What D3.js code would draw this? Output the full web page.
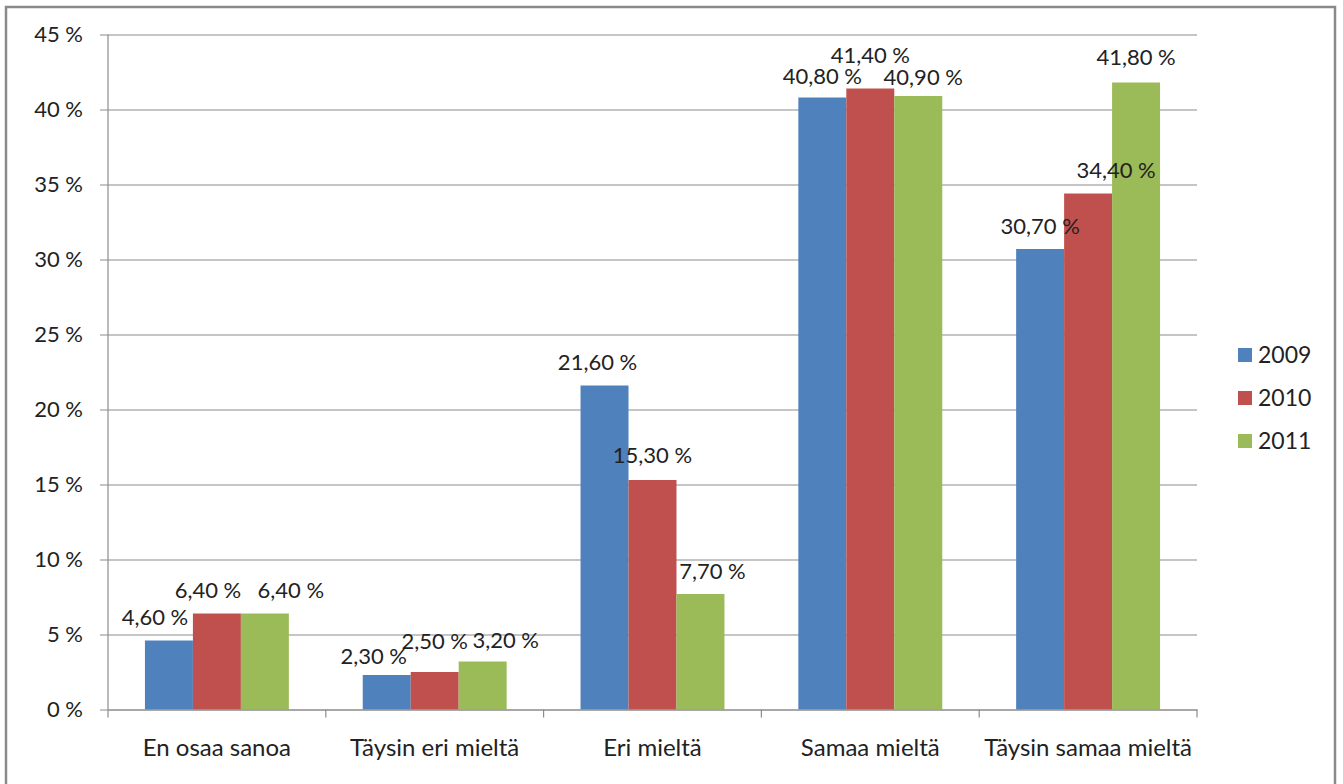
<!DOCTYPE html>
<html>
<head>
<meta charset="utf-8">
<script src="https://cdn.jsdelivr.net/npm/d3@7"></script>
<style>
  body { margin: 0; background: #fff; }
  svg { display: block; font-family: Lato, "Open Sans", sans-serif; }
</style>
</head>
<body>
<div id="chart"></div>
<script>
// Data
const categories = ["En osaa sanoa", "Täysin eri mieltä", "Eri mieltä", "Samaa mieltä", "Täysin samaa mieltä"];
const years = ["2009", "2010", "2011"];
const values2009 = [4.6, 2.3, 21.6, 40.8, 30.7];
const values2010 = [6.4, 2.5, 15.3, 41.4, 34.4];
const values2011 = [6.4, 3.2, 7.7, 40.9, 41.8];
const yTicks = [0, 5, 10, 15, 20, 25, 30, 35, 40, 45];

const seriesValues = [values2009, values2010, values2011];
const colors = ["#4F81BD", "#C0504D", "#9BBB59"];

// Excel had some labels dragged by hand; small [dx, dy] nudges per label
const labelNudge = [
  [[-14, 0], [-13, 4], [-7, 0], [0, 2], [0, 0]],
  [[-9, 0], [0, -8], [0, -2], [0, -10], [28, 0]],
  [[26, 0], [23, 2], [12, 0], [5, 4], [0, -2]]
];

const W = 1343, H = 784;
const plot = { left: 108, right: 1197, top: 34.5, bottom: 709.5 };

const svg = d3.select("#chart").append("svg")
  .attr("width", W)
  .attr("height", H);

svg.append("rect")
  .attr("width", W).attr("height", H)
  .attr("fill", "#fff");

// outer chart border
svg.append("rect")
  .attr("x", 6).attr("y", 7)
  .attr("width", 1329).attr("height", 790)
  .attr("fill", "none")
  .attr("stroke", "#8a8a8a")
  .attr("stroke-width", 2.5);

const x0 = d3.scaleBand()
  .domain(categories)
  .range([plot.left, plot.right])
  .padding(0);

const x1 = d3.scaleBand()
  .domain(years)
  .range([0, x0.bandwidth()])
  .paddingInner(0)
  .paddingOuter(0.77);

const y = d3.scaleLinear()
  .domain([0, 45])
  .range([plot.bottom, plot.top]);

// gridlines + y ticks
const gy = svg.append("g")
  .attr("transform", `translate(${plot.left},0)`)
  .call(d3.axisLeft(y)
    .tickValues(yTicks)
    .tickSize(-(plot.right - plot.left))
    .tickSizeOuter(0)
    .tickPadding(25)
    .tickFormat(d => d + " %"));

gy.select(".domain").remove();
gy.selectAll(".tick line")
  .attr("x1", -8)
  .attr("stroke", "#8c8c8c")
  .attr("stroke-width", 1.2);
gy.selectAll(".tick text")
  .attr("fill", "#222")
  .style("font-size", "22px")
  .style("font-family", "Lato, sans-serif");

// bars
const groups = svg.append("g")
  .selectAll("g")
  .data(categories)
  .join("g")
  .attr("transform", d => `translate(${x0(d)},0)`);

groups.selectAll("rect")
  .data((c, i) => years.map((yr, s) => ({ yr, s, i, v: seriesValues[s][i] })))
  .join("rect")
  .attr("x", d => x1(d.yr))
  .attr("width", x1.bandwidth())
  .attr("y", d => y(d.v))
  .attr("height", d => y(0) - y(d.v))
  .attr("fill", d => colors[d.s]);

// y axis line
svg.append("line")
  .attr("x1", plot.left).attr("x2", plot.left)
  .attr("y1", plot.top).attr("y2", plot.bottom)
  .attr("stroke", "#8c8c8c")
  .attr("stroke-width", 1.2);

// x axis
const gx = svg.append("g")
  .attr("transform", `translate(0,${plot.bottom})`)
  .call(d3.axisBottom(x0).tickSize(0).tickPadding(29));

gx.select(".domain")
  .attr("stroke", "#8c8c8c")
  .attr("stroke-width", 1.2);
gx.selectAll(".tick text")
  .attr("fill", "#222")
  .style("font-size", "24px")
  .style("font-family", "Lato, sans-serif");

// category separator ticks
const sepX = categories.map(c => x0(c)).concat([x0.range()[1]]);
svg.append("g")
  .selectAll("line")
  .data(sepX)
  .join("line")
  .attr("x1", d => d).attr("x2", d => d)
  .attr("y1", plot.bottom).attr("y2", plot.bottom + 8)
  .attr("stroke", "#8c8c8c")
  .attr("stroke-width", 1.2);

// data labels
const fmt = v => v.toFixed(2).replace(".", ",") + " %";
groups.selectAll("text.lbl")
  .data((c, i) => years.map((yr, s) => ({ yr, s, i, v: seriesValues[s][i] })))
  .join("text")
  .attr("class", "lbl")
  .attr("x", d => x1(d.yr) + x1.bandwidth() / 2 + labelNudge[d.s][d.i][0])
  .attr("y", d => y(d.v) - 23 + labelNudge[d.s][d.i][1])
  .attr("dy", "0.35em")
  .attr("text-anchor", "middle")
  .attr("fill", "#222")
  .style("font-size", "22px")
  .text(d => fmt(d.v));

// legend
const legend = svg.append("g")
  .attr("transform", "translate(1238,355)");

const li = legend.selectAll("g")
  .data(years)
  .join("g")
  .attr("transform", (d, i) => `translate(0,${i * 43})`);

li.append("rect")
  .attr("x", 0).attr("y", -7)
  .attr("width", 14).attr("height", 14)
  .attr("fill", (d, i) => colors[i]);

li.append("text")
  .attr("x", 20)
  .attr("dy", "0.35em")
  .attr("fill", "#222")
  .style("font-size", "23px")
  .text(d => d);
</script>
</body>
</html>
